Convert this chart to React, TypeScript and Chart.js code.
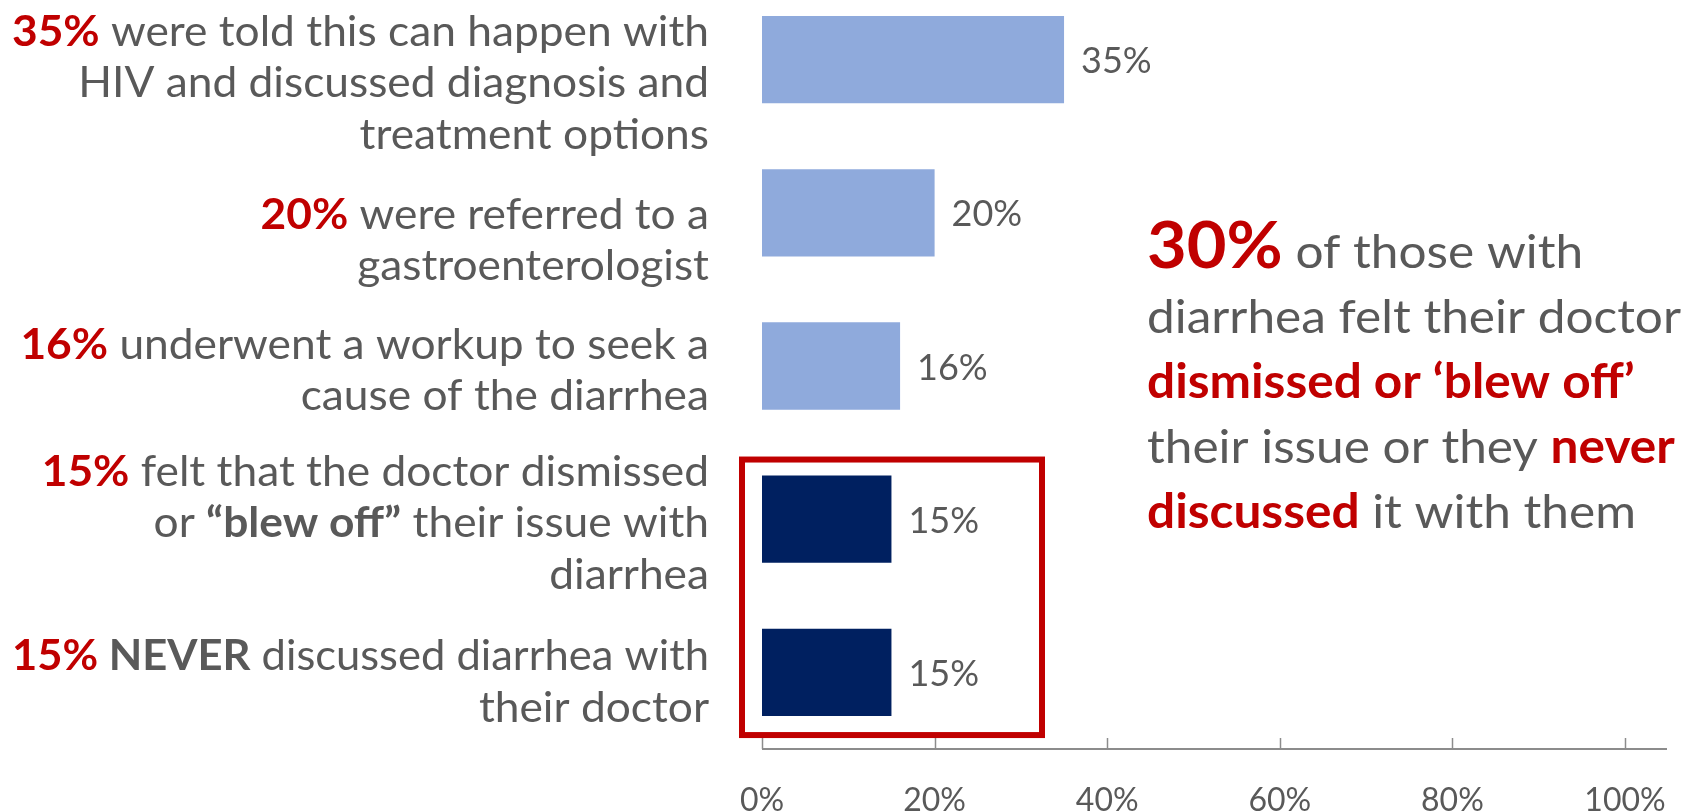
import React, { useEffect, useRef } from "react";
import { Chart, registerables } from "chart.js";

Chart.register(...registerables);

type Seg = { t: string; red?: boolean; bold?: boolean; big?: boolean };

// ---- data ----
const categories = [
  "Told this can happen with HIV; discussed diagnosis and treatment",
  "Referred to a gastroenterologist",
  "Underwent a workup",
  "Doctor dismissed or blew off the issue",
  "Never discussed diarrhea with doctor",
];
const values = [35, 20, 16, 15, 15];
const barColors = ["#8FAADC", "#8FAADC", "#8FAADC", "#002060", "#002060"];
const xTickStep = 20;
const xMin = 0;
const xMax = 100;

const labelLines: Seg[][][] = [
  [
    [{ t: "35%", red: true, bold: true }, { t: " were told this can happen with" }],
    [{ t: "HIV and discussed diagnosis and" }],
    [{ t: "treatment options" }],
  ],
  [
    [{ t: "20%", red: true, bold: true }, { t: " were referred to a" }],
    [{ t: "gastroenterologist" }],
  ],
  [
    [{ t: "16%", red: true, bold: true }, { t: " underwent a workup to seek a" }],
    [{ t: "cause of the diarrhea" }],
  ],
  [
    [{ t: "15%", red: true, bold: true }, { t: " felt that the doctor dismissed" }],
    [{ t: "or " }, { t: "\u201Cblew off\u201D", bold: true }, { t: " their issue with" }],
    [{ t: "diarrhea" }],
  ],
  [
    [{ t: "15%", red: true, bold: true }, { t: " NEVER", bold: true }, { t: " discussed diarrhea with" }],
    [{ t: "their doctor" }],
  ],
];

const noteLines: Seg[][] = [
  [{ t: "30%", red: true, bold: true, big: true }, { t: " of those with" }],
  [{ t: "diarrhea felt their doctor" }],
  [{ t: "dismissed or \u2018blew off\u2019", red: true, bold: true }],
  [{ t: "their issue or they " }, { t: "never", red: true, bold: true }],
  [{ t: "discussed", red: true, bold: true }, { t: " it with them" }],
];

// ---- layout / style ----
const W = 1684;
const H = 811;
const SHIFT = 17; // canvas sits this far above the page top
const CANVAS_H = H + 34;
const GREY = "#595959";
const RED = "#C00000";
const AXIS = "#8C8C8C";
const FONT = 'Lato, "Open Sans", "DejaVu Sans", sans-serif';
const LABEL_SIZE = 42;
const LABEL_LINE_H = 51.5;
const LABEL_GAP = 53;
const LABEL_TARGET_W = 697;
const groupOffsets = [22.4, 26.5, 3.3, 3, 8.5];
const NOTE_SIZE = 47;
const NOTE_BIG = 65;
const NOTE_X = 1147;
const NOTE_BASE0 = 268;
const NOTE_LINE_H = 65;
const NOTE_TARGET_W = 534;

function fontOf(s: Seg, size: number) {
  return `${s.bold ? "700" : "400"} ${size}px ${FONT}`;
}

function segWidths(ctx: CanvasRenderingContext2D, segs: Seg[], size: number, big: number) {
  return segs.map((s) => {
    ctx.font = fontOf(s, s.big ? big : size);
    return ctx.measureText(s.t).width;
  });
}

function drawLine(
  ctx: CanvasRenderingContext2D,
  segs: Seg[],
  x: number,
  baseline: number,
  align: "left" | "right",
  sx: number,
  size: number,
  big: number,
  maxW?: number
) {
  const ws = segWidths(ctx, segs, size, big);
  const natural = ws.reduce((a, b) => a + b, 0);
  let k = sx;
  if (maxW && natural * k > maxW) k = maxW / natural;
  const total = natural * k;
  const start = align === "right" ? x - total : x;
  ctx.save();
  ctx.translate(start, baseline);
  ctx.scale(k, 1);
  ctx.textAlign = "left";
  ctx.textBaseline = "alphabetic";
  let cx = 0;
  segs.forEach((s, i) => {
    ctx.font = fontOf(s, s.big ? big : size);
    ctx.fillStyle = s.red ? RED : GREY;
    ctx.fillText(s.t, cx, 0);
    cx += ws[i];
  });
  ctx.restore();
}

const overlay = {
  id: "overlay",
  afterDraw(chart: any) {
    const ctx: CanvasRenderingContext2D = chart.ctx;
    const area = chart.chartArea;
    const xs = chart.scales.x;
    const meta = chart.getDatasetMeta(0);
    const x0 = xs.getPixelForValue(0);

    // axis line + inward ticks
    ctx.save();
    ctx.strokeStyle = AXIS;
    ctx.lineWidth = 2;
    ctx.beginPath();
    ctx.moveTo(x0, area.bottom);
    ctx.lineTo(area.right + 42, area.bottom);
    ctx.stroke();
    ctx.lineWidth = 1.5;
    xs.ticks.forEach((t: any) => {
      const px = Math.round(xs.getPixelForValue(t.value)) + 0.5;
      ctx.beginPath();
      ctx.moveTo(px, area.bottom);
      ctx.lineTo(px, area.bottom - 11);
      ctx.stroke();
    });
    ctx.restore();

    // value labels
    ctx.save();
    ctx.font = `400 36px ${FONT}`;
    ctx.fillStyle = GREY;
    ctx.textAlign = "left";
    ctx.textBaseline = "middle";
    meta.data.forEach((el: any, i: number) => {
      const p = el.getProps(["x", "y"], true);
      ctx.fillText(values[i] + "%", p.x + 17, p.y + 2);
    });
    ctx.restore();

    // category labels (rich text)
    const lsx = LABEL_TARGET_W / segWidths(ctx, labelLines[0][0], LABEL_SIZE, LABEL_SIZE).reduce((a, b) => a + b, 0);
    labelLines.forEach((lines, i) => {
      const el = meta.data[i];
      const cy = el.getProps(["y"], true).y + groupOffsets[i];
      const n = lines.length;
      lines.forEach((segs, j) => {
        const c = cy + (j - (n - 1) / 2) * LABEL_LINE_H;
        drawLine(ctx, segs, x0 - LABEL_GAP, c + 0.36 * LABEL_SIZE, "right", lsx, LABEL_SIZE, LABEL_SIZE, LABEL_TARGET_W);
      });
    });

    // highlight box around the last two bars
    const b3 = meta.data[3].getProps(["y", "height"], true);
    const b4 = meta.data[4].getProps(["y", "height"], true);
    ctx.save();
    ctx.strokeStyle = RED;
    ctx.lineWidth = 6;
    const top = b3.y - b3.height / 2 - 16;
    const bottom = b4.y + b4.height / 2 + 19;
    ctx.strokeRect(x0 - 20, top, 300, bottom - top);
    ctx.restore();

    // side note
    const nsx = NOTE_TARGET_W / segWidths(ctx, noteLines[1], NOTE_SIZE, NOTE_BIG).reduce((a, b) => a + b, 0);
    noteLines.forEach((segs, j) => {
      drawLine(ctx, segs, NOTE_X, NOTE_BASE0 + j * NOTE_LINE_H + SHIFT, "left", nsx, NOTE_SIZE, NOTE_BIG);
    });
  },
};

export default function App() {
  const ref = useRef<HTMLCanvasElement | null>(null);
  useEffect(() => {
    if (!ref.current) return;
    const chart = new Chart(ref.current, {
      type: "bar",
      data: {
        labels: categories,
        datasets: [
          {
            data: values,
            backgroundColor: barColors,
            borderWidth: 0,
            categoryPercentage: 1,
            barPercentage: 0.57,
          },
        ],
      },
      options: {
        indexAxis: "y",
        responsive: false,
        animation: false,
        devicePixelRatio: 1,
        layout: { padding: { left: 762, right: 59, top: 0, bottom: 0 } },
        plugins: { legend: { display: false }, tooltip: { enabled: false } },
        scales: {
          x: {
            min: xMin,
            max: xMax,
            grid: { display: false },
            border: { display: false },
            ticks: {
              stepSize: xTickStep,
              autoSkip: false,
              maxRotation: 0,
              padding: 24,
              color: GREY,
              font: { family: FONT, size: 32 },
              callback: (v: any) => v + "%",
            },
            afterFit: (s: any) => {
              s.height = 79;
              s.paddingLeft = 0;
              s.paddingRight = 0;
            },
          },
          y: { display: false },
        },
      } as any,
      plugins: [overlay],
    });
    return () => chart.destroy();
  }, []);
  return (
    <div
      style={{
        position: "fixed",
        left: 0,
        top: 0,
        width: W,
        height: H,
        overflow: "hidden",
        background: "#fff",
      }}
    >
      <canvas
        ref={ref}
        width={W}
        height={CANVAS_H}
        style={{ position: "absolute", left: 0, top: -SHIFT, width: W, height: CANVAS_H }}
      />
    </div>
  );
}
